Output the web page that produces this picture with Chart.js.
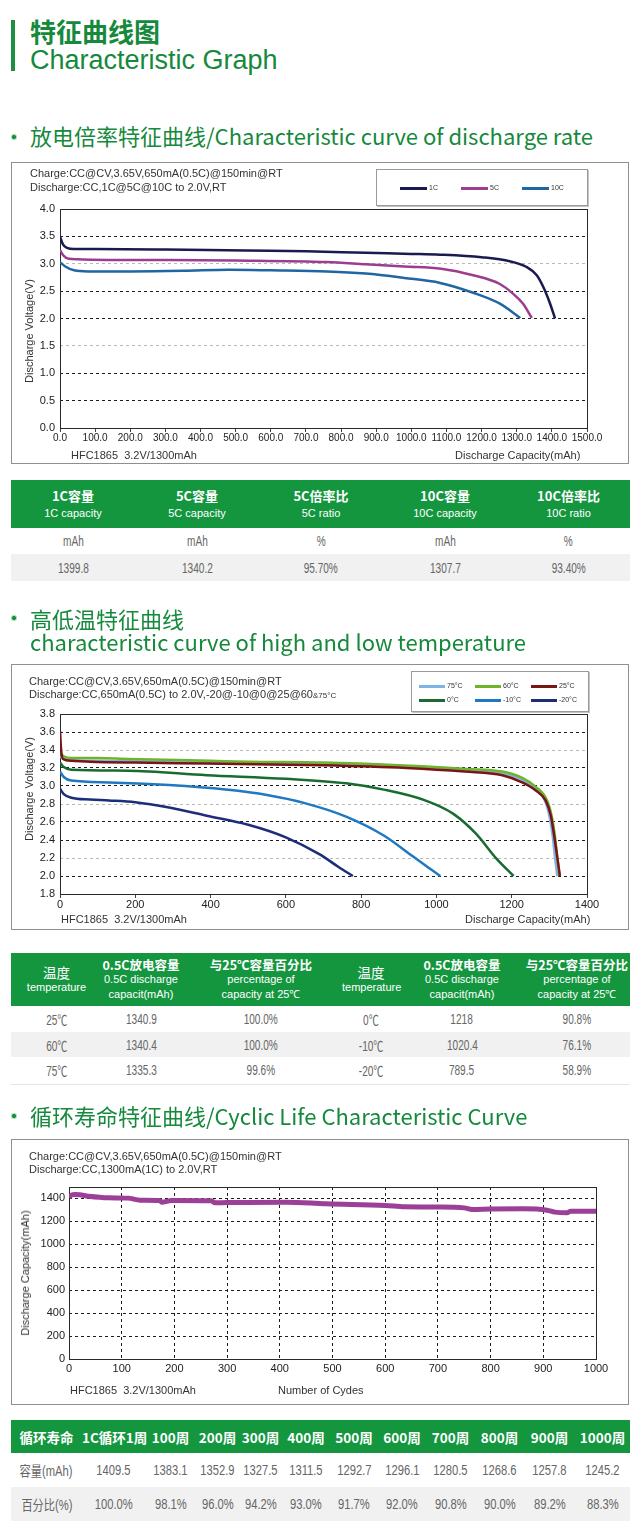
<!DOCTYPE html>
<html>
<head>
<meta charset="utf-8">
<script src="https://cdn.jsdelivr.net/npm/chart.js@4.4.1/dist/chart.umd.min.js"></script>
<style>
  body { margin:0; width:640px; height:1530px; background:#fff; position:relative; overflow:hidden;
         font-family:'Liberation Sans', Arial, sans-serif; }
  .t { position:absolute; white-space:nowrap; font-size:11px; line-height:14px; color:#333; }
  .rot { position:absolute; white-space:nowrap; font-size:11px; line-height:14px; color:#333;
         transform:translate(-50%,-50%) rotate(-90deg); }
  .box { position:absolute; left:11px; width:618px; border:1px solid #8f8f8f; box-sizing:border-box; }
  .sec { position:absolute; left:30px; font-family:'Noto Sans CJK SC', sans-serif; font-size:22px;
         line-height:22px; color:#15893c; white-space:nowrap; }
  .dot { position:absolute; left:11px; width:6px; height:6px; border-radius:50%;
         background:radial-gradient(circle, #1a8f3f 40%, #a9dbb6 55%); }
  .lg { position:absolute; border:1px solid #9a9a9a; box-shadow:1px 1px 0 #c4c4c4; background:#fff; }
  .lgl { position:absolute; height:3px; }
  .lgt { position:absolute; font-size:7px; line-height:8px; color:#333; white-space:nowrap; }
  canvas { position:absolute; left:11px; }
  table { position:absolute; left:11px; width:619px; border-collapse:collapse; table-layout:fixed; }
  th { background:#14963f; color:#fff; padding:0; text-align:center; font-weight:normal; white-space:nowrap; }
  td { padding:0; text-align:center; color:#666; white-space:nowrap;
       font-family:'Liberation Sans', 'Noto Sans CJK SC', sans-serif; font-size:14px; }
  td span { display:inline-block; transform:scaleX(0.72); }
  tr.alt td { background:#f1f1f1; }
  .hb { font-family:'Noto Sans CJK SC', sans-serif; font-weight:bold; font-size:13px; }
  .hs { font-family:'Liberation Sans', Arial, sans-serif; font-size:11px; }
  #tb1 .hb { line-height:18px; } #tb1 .hs { line-height:16px; }
  #tb2 .hb, #tb2 .hs { line-height:15px; }
  #tb2 .hb { font-size:12.5px; }
  #tb2 .hb.plain { font-weight:normal; font-size:13.5px; }
  #tb3 .hb { font-size:13.5px; line-height:20px; }
  #tb3 td span { transform:scaleX(0.8); }
  #tb2 tr:last-child td { border-bottom:1px solid #e6e6e6; }
</style>
</head>
<body>

<!-- header -->
<div style="position:absolute;left:11px;top:20px;width:4px;height:51px;background:#1d8f3e"></div>
<div style="position:absolute;left:30px;top:18px;font-family:'Noto Sans CJK SC',sans-serif;font-weight:bold;font-size:26px;line-height:26px;color:#15893c">特征曲线图</div>
<div style="position:absolute;left:30px;top:47px;font-family:'Liberation Sans',Arial,sans-serif;font-size:27px;line-height:27px;color:#15893c;white-space:nowrap">Characteristic Graph</div>

<!-- section 1 -->
<div class="dot" style="top:134px"></div>
<div class="sec" style="top:124px">放电倍率特征曲线/Characteristic curve of discharge rate</div>
<div class="box" style="top:162px;height:302px"></div>
<canvas id="c1" width="618" height="302" style="top:162px"></canvas>
<div class="t" style="left:30px;top:166px">Charge:CC@CV,3.65V,650mA(0.5C)@150min@RT</div>
<div class="t" style="left:30px;top:180px">Discharge:CC,1C@5C@10C to 2.0V,RT</div>
<div class="rot" style="left:29px;top:331px">Discharge Voltage(V)</div>
<div class="t" style="left:71px;top:448px">HFC1865&nbsp; 3.2V/1300mAh</div>
<div class="t" style="left:455px;top:448px">Discharge Capacity(mAh)</div>
<div class="lg" id="lg1" style="left:376px;top:169px;width:210px;height:35px"></div>

<table id="tb1" style="top:480px"></table>

<!-- section 2 -->
<div class="dot" style="top:615px"></div>
<div class="sec" style="top:607px">高低温特征曲线</div>
<div class="sec" style="top:630px">characteristic curve of high and low temperature</div>
<div class="box" style="top:664px;height:266px"></div>
<canvas id="c2" width="618" height="266" style="top:664px"></canvas>
<div class="t" style="left:29px;top:674px">Charge:CC@CV,3.65V,650mA(0.5C)@150min@RT</div>
<div class="t" style="left:29px;top:687px">Discharge:CC,650mA(0.5C) to 2.0V,-20@-10@0@25@60<span style="font-size:8px">&amp;75°C</span></div>
<div class="rot" style="left:29px;top:789px">Discharge Voltage(V)</div>
<div class="t" style="left:61px;top:912px">HFC1865&nbsp; 3.2V/1300mAh</div>
<div class="t" style="left:465px;top:912px">Discharge Capacity(mAh)</div>
<div class="lg" id="lg2" style="left:411px;top:671px;width:176px;height:39px"></div>

<table id="tb2" style="top:953px"></table>

<!-- section 3 -->
<div class="dot" style="top:1113px"></div>
<div class="sec" style="top:1104px">循环寿命特征曲线/Cyclic Life Characteristic Curve</div>
<div class="box" style="top:1139px;height:266px"></div>
<canvas id="c3" width="618" height="266" style="top:1139px"></canvas>
<div class="t" style="left:29px;top:1149px">Charge:CC@CV,3.65V,650mA(0.5C)@150min@RT</div>
<div class="t" style="left:29px;top:1162px">Discharge:CC,1300mA(1C) to 2.0V,RT</div>
<div class="rot" style="left:25px;top:1273px">Discharge Capacity(mAh)</div>
<div class="t" style="left:70px;top:1383px">HFC1865&nbsp; 3.2V/1300mAh</div>
<div class="t" style="left:278px;top:1383px">Number of Cydes</div>

<table id="tb3" style="top:1420px"></table>

<script>
// ---------- discharge rate (capacity mAh / voltage V) ----------
const cap1C   = [0, 8, 20, 40, 100, 300, 530, 700, 870, 1000, 1082, 1200, 1271, 1328, 1357, 1376, 1395, 1409];
const volt1C  = [3.50, 3.36, 3.29, 3.27, 3.27, 3.26, 3.24, 3.23, 3.20, 3.18, 3.165, 3.12, 3.06, 2.94, 2.79, 2.57, 2.27, 2.00];
const cap5C   = [0, 10, 25, 50, 150, 310, 500, 760, 870, 980, 1085, 1176, 1252, 1290, 1318, 1343];
const volt5C  = [3.25, 3.15, 3.09, 3.08, 3.07, 3.07, 3.06, 3.03, 2.99, 2.95, 2.91, 2.79, 2.63, 2.45, 2.27, 2.01];
const cap10C  = [0, 15, 40, 80, 200, 350, 480, 600, 760, 870, 980, 1082, 1176, 1252, 1310];
const volt10C = [3.03, 2.95, 2.88, 2.86, 2.86, 2.87, 2.89, 2.88, 2.86, 2.82, 2.74, 2.65, 2.47, 2.27, 2.01];
const rateNames  = ['1C', '5C', '10C'];
const rateColors = ['#1b1a4f', '#9c3d8f', '#1f66a3'];
const rateLightGrid = [3.0, 1.5];

// ---------- temperature ----------
const cap25   = [0, 3, 8, 30, 80, 200, 390, 700, 920, 1075, 1175, 1228, 1264, 1290, 1304, 1312, 1321, 1328];
const volt25  = [3.61, 3.40, 3.30, 3.28, 3.27, 3.26, 3.25, 3.23, 3.20, 3.16, 3.12, 3.04, 2.95, 2.84, 2.67, 2.47, 2.21, 2.00];
const cap60   = [0, 10, 30, 100, 180, 400, 500, 700, 900, 1080, 1175, 1228, 1264, 1294, 1306, 1314, 1321, 1327];
const volt60  = [3.37, 3.33, 3.31, 3.31, 3.30, 3.28, 3.27, 3.26, 3.23, 3.19, 3.16, 3.09, 2.99, 2.84, 2.67, 2.47, 2.21, 2.00];
const cap75   = [0, 10, 30, 100, 300, 500, 700, 900, 1080, 1175, 1228, 1262, 1288, 1300, 1308, 1315, 1321];
const volt75  = [3.33, 3.30, 3.29, 3.28, 3.27, 3.26, 3.24, 3.22, 3.18, 3.14, 3.07, 2.97, 2.84, 2.67, 2.47, 2.21, 2.00];
const cap0    = [0, 10, 30, 180, 390, 600, 760, 860, 970, 1045, 1105, 1160, 1205];
const volt0   = [3.26, 3.21, 3.18, 3.17, 3.12, 3.08, 3.03, 2.96, 2.84, 2.69, 2.47, 2.19, 2.00];
const capM10  = [0, 10, 30, 130, 290, 440, 550, 650, 760, 860, 940, 980, 1010];
const voltM10 = [3.16, 3.10, 3.06, 3.04, 3.01, 2.96, 2.90, 2.81, 2.66, 2.45, 2.21, 2.09, 2.00];
const capM20  = [0, 10, 30, 80, 130, 200, 290, 390, 500, 600, 690, 740, 778];
const voltM20 = [2.97, 2.91, 2.87, 2.85, 2.84, 2.82, 2.76, 2.67, 2.57, 2.43, 2.24, 2.10, 2.00];
const tempNames  = ['75°C', '60°C', '25°C', '0°C', '-10°C', '-20°C'];
const tempColors = ['#7db4e4', '#6fb52c', '#7b1416', '#1a6b30', '#1f78c1', '#1c2d7c'];
const tempLightGrid = [3.4, 2.8, 2.2];

// ---------- cycle life ----------
const cycles   = [0, 5, 11, 20, 37, 75, 112, 135, 172, 176, 195, 270, 277, 300, 412, 488, 600, 637, 700, 750, 765, 800, 862, 907, 922, 945, 952, 1000];
const cycleCap = [1414, 1430, 1435, 1432, 1420, 1406, 1403, 1385, 1382, 1368, 1382, 1380, 1362, 1365, 1368, 1353, 1339, 1327, 1325, 1318, 1304, 1308, 1310, 1298, 1281, 1275, 1289, 1289];

// ---------- tables ----------
const rateHead  = [['1C容量', '1C capacity'], ['5C容量', '5C capacity'], ['5C倍率比', '5C ratio'], ['10C容量', '10C capacity'], ['10C倍率比', '10C ratio']];
const rateUnits = ['mAh', 'mAh', '%', 'mAh', '%'];
const rateVals  = ['1399.8', '1340.2', '95.70%', '1307.7', '93.40%'];

const tempHead = [['温度', 'temperature'], ['0.5C放电容量', '0.5C discharge', 'capacit(mAh)'], ['与25℃容量百分比', 'percentage of', 'capacity at 25℃'],
                  ['温度', 'temperature'], ['0.5C放电容量', '0.5C discharge', 'capacit(mAh)'], ['与25℃容量百分比', 'percentage of', 'capacity at 25℃']];
const tempRows = [['25℃', '1340.9', '100.0%', '0℃', '1218', '90.8%'],
                  ['60℃', '1340.4', '100.0%', '-10℃', '1020.4', '76.1%'],
                  ['75℃', '1335.3', '99.6%', '-20℃', '789.5', '58.9%']];

const cycHead = ['循环寿命', '1C循环1周', '100周', '200周', '300周', '400周', '500周', '600周', '700周', '800周', '900周', '1000周'];
const cycCap  = ['容量(mAh)', '1409.5', '1383.1', '1352.9', '1327.5', '1311.5', '1292.7', '1296.1', '1280.5', '1268.6', '1257.8', '1245.2'];
const cycPct  = ['百分比(%)', '100.0%', '98.1%', '96.0%', '94.2%', '93.0%', '91.7%', '92.0%', '90.8%', '90.0%', '89.2%', '88.3%'];

// ------------------------------------------------------------
Chart.defaults.font.family = "'Liberation Sans', Arial, sans-serif";
Chart.defaults.font.size = 11;
Chart.defaults.color = '#333';

const pts = (xs, ys) => xs.map((x, i) => ({ x, y: ys[i] }));

// solid frame round the plot area
const framePlugin = {
  id: 'frame',
  beforeDatasetsDraw(chart) {
    const { ctx, chartArea: a } = chart;
    ctx.save();
    ctx.strokeStyle = '#2a2a2a';
    ctx.lineWidth = 1;
    ctx.strokeRect(Math.round(a.left) + 0.5, Math.round(a.top) + 0.5,
                   Math.round(a.right - a.left), Math.round(a.bottom - a.top));
    ctx.restore();
  }
};

function gridColor(light) {
  return c => light.some(v => Math.abs(v - c.tick.value) < 1e-6) ? '#b9b9b9' : '#1e1e1e';
}

function lineSet(xs, ys, color, width) {
  return {
    data: pts(xs, ys), borderColor: color, borderWidth: width, pointRadius: 0,
    cubicInterpolationMode: 'monotone', fill: false
  };
}

function makeChart(id, datasets, o) {
  return new Chart(document.getElementById(id), {
    type: 'line',
    data: { datasets },
    plugins: [framePlugin],
    options: {
      responsive: false,
      animation: false,
      layout: { padding: { top: o.top, right: o.right, left: 0, bottom: 0 } },
      plugins: { legend: { display: false }, tooltip: { enabled: false } },
      scales: {
        x: {
          type: 'linear', min: o.xMin, max: o.xMax,
          afterFit: s => { s.height = o.xH; },
          ticks: { stepSize: o.xStep, autoSkip: false, maxRotation: 0, padding: o.xPad,
                   callback: o.xFmt, color: '#222', font: { size: o.xFont || 11 } },
          grid: o.xGrid,
          border: { display: false, dash: o.xDash || [] }
        },
        y: {
          min: o.yMin, max: o.yMax,
          afterFit: s => { s.width = o.yW; },
          ticks: { stepSize: o.yStep, padding: o.yPad, callback: o.yFmt, color: '#222', includeBounds: false },
          grid: { color: o.yGridColor, lineWidth: 1, drawTicks: false },
          border: { display: false, dash: [3, 3] }
        }
      }
    }
  });
}

// chart 1: discharge rate
makeChart('c1', [
  lineSet(cap1C, volt1C, rateColors[0], 2.5),
  lineSet(cap5C, volt5C, rateColors[1], 2.5),
  lineSet(cap10C, volt10C, rateColors[2], 2.5)
], {
  top: 47, right: 42, xH: 36, yW: 49,
  xMin: 0, xMax: 1500, xStep: 100, xPad: 0, xFont: 10, xFmt: v => v.toFixed(1),
  xGrid: { drawOnChartArea: false, drawTicks: true, tickLength: 4, color: '#444' },
  yMin: 0, yMax: 4, yStep: 0.5, yPad: 5, yFmt: v => v.toFixed(1),
  yGridColor: gridColor(rateLightGrid)
});

// chart 2: temperature (25°C drawn on top)
const tempOrder = [2, 1, 0, 3, 4, 5];
const tempData = [[cap75, volt75], [cap60, volt60], [cap25, volt25], [cap0, volt0], [capM10, voltM10], [capM20, voltM20]];
makeChart('c2', tempOrder.map(i => lineSet(tempData[i][0], tempData[i][1], tempColors[i], 2.5)), {
  top: 50, right: 42, xH: 36, yW: 49,
  xMin: 0, xMax: 1400, xStep: 200, xPad: 0, xFmt: v => String(v),
  xGrid: { drawOnChartArea: false, drawTicks: true, tickLength: 4, color: '#444' },
  yMin: 1.8, yMax: 3.8, yStep: 0.2, yPad: 5, yFmt: v => v.toFixed(1),
  yGridColor: gridColor(tempLightGrid)
});

// chart 3: cycle life
makeChart('c3', [lineSet(cycles, cycleCap, '#9b3f97', 5)], {
  top: 48, right: 33, xH: 46, yW: 58,
  xMin: 0, xMax: 1000, xStep: 100, xPad: 3, xFmt: v => String(v),
  xGrid: { drawOnChartArea: true, drawTicks: false, color: '#1e1e1e' }, xDash: [3, 3],
  yMin: 0, yMax: 1500, yStep: 200, yPad: 4, yFmt: v => String(v),
  yGridColor: '#1e1e1e'
});

// ---------- legends ----------
function buildLegend(id, names, colors, cols, x0, dx, y0, dy, lineW) {
  const box = document.getElementById(id);
  const bx = box.offsetLeft, by = box.offsetTop;
  names.forEach((n, i) => {
    const x = x0 + (i % cols) * dx - bx, y = y0 + Math.floor(i / cols) * dy - by;
    const l = document.createElement('div');
    l.className = 'lgl';
    l.style.cssText = `left:${x}px;top:${y - 1.5}px;width:${lineW}px;background:${colors[i]}`;
    box.appendChild(l);
    const t = document.createElement('div');
    t.className = 'lgt';
    t.style.cssText = `left:${x + lineW + 2}px;top:${y - 4}px`;
    t.textContent = n;
    box.appendChild(t);
  });
}
buildLegend('lg1', rateNames, rateColors, 3, 399, 61, 187, 0, 27);
buildLegend('lg2', tempNames, tempColors, 3, 418, 56, 685, 14, 26);

// ---------- tables ----------
function buildTable(id, widths, head, rows, heights) {
  const t = document.getElementById(id);
  const cg = document.createElement('colgroup');
  widths.forEach(w => { const c = document.createElement('col'); c.style.width = w + 'px'; cg.appendChild(c); });
  t.appendChild(cg);
  const hr = t.insertRow();
  hr.style.height = heights[0] + 'px';
  head.forEach(h => {
    const th = document.createElement('th');
    const lines = Array.isArray(h) ? h : [h];
    lines.forEach((s, i) => {
      const d = document.createElement('div');
      d.className = i === 0 ? 'hb' : 'hs';
      if (i === 0 && s === '温度') d.classList.add('plain');
      d.textContent = s;
      th.appendChild(d);
    });
    hr.appendChild(th);
  });
  rows.forEach((r, k) => {
    const tr = t.insertRow();
    tr.style.height = heights[k + 1] + 'px';
    if (k % 2 === 1) tr.className = 'alt';
    r.forEach(s => {
      const sp = document.createElement('span');
      sp.textContent = s;
      tr.insertCell().appendChild(sp);
    });
  });
}
buildTable('tb1', [124, 124, 124, 124, 123], rateHead, [rateUnits, rateVals], [48, 26, 27]);
buildTable('tb2', [91, 78, 162, 58, 124, 106], tempHead, tempRows, [53, 26, 25, 27]);
buildTable('tb3', [71, 63, 51, 43, 43, 48, 48, 48, 49, 49, 51, 55], cycHead, [cycCap, cycPct], [33, 34, 34]);
</script>
</body>
</html>
